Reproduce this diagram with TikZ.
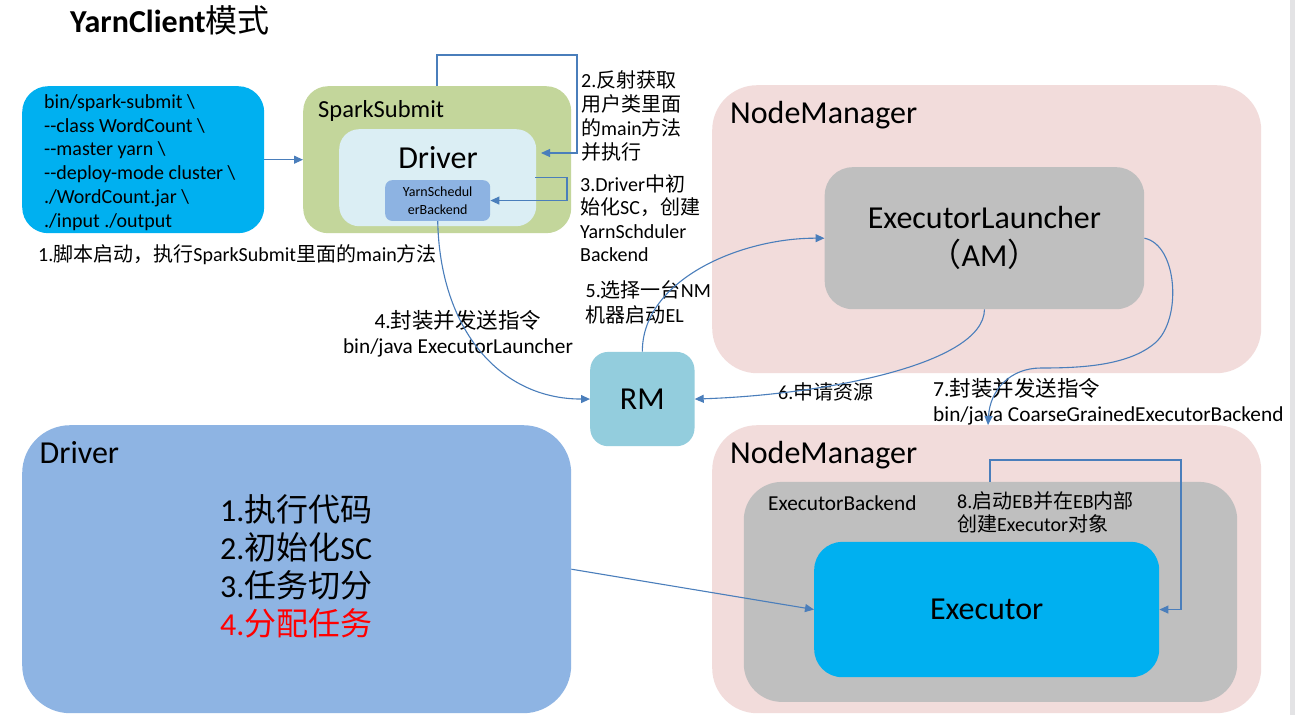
\documentclass[tikz,border=0pt]{standalone}
\usepackage{fontspec}
\setmainfont{Carlito}[Ligatures=TeXOff]
\newfontfamily\cjk{Noto Sans CJK SC}
\usetikzlibrary{arrows.meta}
\definecolor{cmdblue}{HTML}{00B0F0}
\definecolor{ssgreen}{HTML}{C3D69B}
\definecolor{drvlight}{HTML}{DBEEF4}
\definecolor{ybblue}{HTML}{8DB3E2}
\definecolor{nmpink}{HTML}{F2DCDB}
\definecolor{elgray}{HTML}{BFBFBF}
\definecolor{rmblue}{HTML}{93CDDD}
\definecolor{drvblue}{HTML}{8EB4E3}
\definecolor{arrblue}{HTML}{4A7EBB}
\definecolor{edgegray}{HTML}{E3E3E5}
\newcommand\zh[1]{{\cjk #1}}
\newcommand\fsz[2]{\fontsize{#1}{#2}\selectfont}
\begin{document}
\begin{tikzpicture}[x=1pt,y=-1pt,
  box/.style={draw=none, rounded corners=#1, inner sep=0pt, anchor=north west},
  box/.default=20pt,
  txt/.style={inner sep=0pt, anchor=base west},
  ctxt/.style={inner sep=0pt, anchor=base},
  arr/.style={draw=arrblue, line width=1.1pt, -{Triangle[length=9pt,width=8pt]}},
  lbl/.style={txt, font=\fsz{20}{24}}]
\fill[white] (0,0) rectangle (1295,715);
\useasboundingbox (0,0) rectangle (1295,715);
\fill[edgegray] (1289.5,0) rectangle (1295,715);

% title
\node[txt, font=\fsz{32}{38}\bfseries] (title) at (70,32) {YarnClient\zh{\mdseries 模式}};

% command box
\node[box=26pt, fill=cmdblue, minimum width=242pt, minimum height=147pt] (cmd) at (22,86) {};
\node[lbl] (c1) at (44,108) {bin/spark-submit \textbackslash};
\node[lbl] (c2) at (44,132) {--class WordCount \textbackslash};
\node[lbl] (c3) at (44,155) {--master yarn \textbackslash};
\node[lbl] (c4) at (44,179) {--deploy-mode cluster \textbackslash};
\node[lbl] (c5) at (44,203) {./WordCount.jar \textbackslash};
\node[lbl] (c6) at (44,227) {./input ./output};
\node[lbl] (t1) at (38,261) {1.\zh{脚本启动，执行}SparkSubmit\zh{里面的}main\zh{方法}};

% SparkSubmit
\node[box=25pt, fill=ssgreen, minimum width=268pt, minimum height=147pt] (ss) at (303,86) {};
\node[txt, font=\fsz{24.5}{29}] (sst) at (318,117) {SparkSubmit};
\node[box=20pt, fill=drvlight, minimum width=197pt, minimum height=97pt] (drv) at (339,129) {};
\node[ctxt, font=\fsz{32}{38}] (drvt) at (438,168) {Driver};
\node[box=7pt, fill=ybblue, minimum width=105pt, minimum height=40.7pt, align=center, font=\fsz{14}{17.5}] (yb) at (385,180) {YarnSchedul\\erBackend};

% labels 2,3
\node[lbl] (t2a) at (581,87) {2.\zh{反射获取}};
\node[lbl] (t2b) at (581,111) {\zh{用户类里面}};
\node[lbl] (t2c) at (581,135) {\zh{的}main\zh{方法}};
\node[lbl] (t2d) at (581,159) {\zh{并执行}};
\node[lbl] (t3a) at (580,191) {3.Driver\zh{中初}};
\node[lbl] (t3b) at (580,214.5) {\zh{始化}SC\zh{，创建}};
\node[lbl] (t3c) at (580,238) {YarnSchduler};
\node[lbl] (t3d) at (580,261) {Backend};

% label 4
\node[ctxt, font=\fsz{21.5}{25}] (t4a) at (458,328.5) {4.\zh{封装并发送指令}};
\node[ctxt, font=\fsz{21.3}{25}] (t4b) at (458,353.5) {bin/java ExecutorLauncher};

% label 5
\node[lbl] (t5a) at (585.5,297.5) {5.\zh{选择一台}NM};
\node[lbl] (t5b) at (585.5,322) {\zh{机器启动}EL};

% RM
\node[box=18pt, fill=rmblue, minimum width=104.3pt, minimum height=94.3pt, font=\fsz{32}{38}] (rm) at (590,351.7) {RM};

% NodeManager top
\node[box=45pt, fill=nmpink, minimum width=549pt, minimum height=288pt] (nm1) at (712,85) {};
\node[txt, font=\fsz{32}{38}] (nm1t) at (730,123.5) {NodeManager};
\node[box=28pt, fill=elgray, minimum width=319.5pt, minimum height=142pt, align=center, font=\fsz{32}{38}] (el) at (824.5,167) {ExecutorLauncher\\\zh{（}AM\zh{）}};

% labels 6,7
\node[lbl] (t6) at (778,399) {6.\zh{申请资源}};
\node[txt, font=\fsz{21.5}{25}] (t7a) at (933,396.5) {7.\zh{封装并发送指令}};
\node[txt, font=\fsz{21.3}{25}] (t7b) at (933,421.5) {bin/java CoarseGrainedExecutorBackend};

% Driver bottom
\node[box=48pt, fill=drvblue, minimum width=549pt, minimum height=288pt] (drv2) at (22,425) {};
\node[txt, font=\fsz{32}{38}] (drv2t) at (39.5,463) {Driver};
\node[txt, font=\fsz{32}{38}] (d1) at (220,521.5) {1.\zh{执行代码}};
\node[txt, font=\fsz{32}{38}] (d2) at (220,559.5) {2.\zh{初始化}SC};
\node[txt, font=\fsz{32}{38}] (d3) at (220,597.5) {3.\zh{任务切分}};
\node[txt, font=\fsz{32}{38}, text=red] (d4) at (220,635.5) {4.\zh{分配任务}};

% NodeManager bottom
\node[box=45pt, fill=nmpink, minimum width=549pt, minimum height=288pt] (nm2) at (712,425) {};
\node[txt, font=\fsz{32}{38}] (nm2t) at (730,463.5) {NodeManager};
\node[box=38pt, fill=elgray, minimum width=493.4pt, minimum height=220pt] (eb) at (743.6,481.7) {};
\node[txt, font=\fsz{21.3}{25}] (ebt) at (768,510.5) {ExecutorBackend};
\node[lbl] (t8a) at (957,508) {8.\zh{启动}EB\zh{并在}EB\zh{内部}};
\node[lbl] (t8b) at (957,531.5) {\zh{创建}Executor\zh{对象}};
\node[box=28pt, fill=cmdblue, minimum width=345pt, minimum height=135.3pt, font=\fsz{32}{38}] (ex) at (814,541.7) {Executor};

% connectors
\draw[arr] (cmd.east) -- (ss.west);
\coordinate (k2a) at (437,55);
\coordinate (k2b) at (577,55);
\coordinate (k2e) at (541,153);
\draw[arr] (ss.north -| k2a) -- (k2a) -- (k2b) |- (k2e);
\coordinate (k3a) at (535,177.5);
\coordinate (k3b) at (567,177.5);
\draw[arr] (k3a) -- (k3b) |- (yb.east);
\draw[arr] (yb.south) .. controls (440,330) and (500,399) .. (rm.west);
\draw[arr] (rm.north) .. controls (642,280) and (740,238) .. (el.west);
\draw[arr] (el.south) .. controls (984,365) and (820,395) .. (rm.east);
\coordinate (k7e) at (988,0);
\draw[arr] (el.east) .. controls (1178,245) and (1182,320) .. (1155,343)
  .. controls (1128,366) and (1080,368) .. (1041,368)
  .. controls (1010,368) and (990,390) .. (nm2.north -| k7e);
\draw[arr] (drv2.east) -- (ex.west);
\coordinate (k8a) at (990,460);
\coordinate (k8b) at (1181,460);
\draw[arr] (eb.north -| k8a) -- (k8a) -- (k8b) |- (ex.east);
\end{tikzpicture}
\end{document}
